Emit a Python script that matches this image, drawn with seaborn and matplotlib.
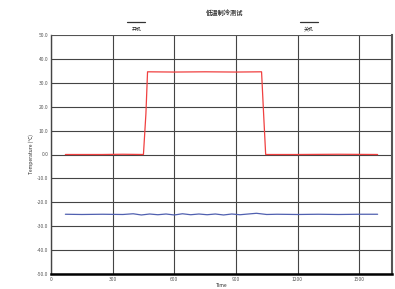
import numpy as np
import pandas as pd
import matplotlib.pyplot as plt
import seaborn as sns

sns.set_theme(style='white')
plt.rcParams['font.family'] = ['Noto Sans CJK SC', 'DejaVu Sans']
plt.rcParams['axes.unicode_minus'] = False

# data
title = '低温制冷测试'
event_labels = ['开机', '关机']
event_times = [415, 1255]
time_red = [70, 150, 250, 350, 450, 462, 470, 600, 750, 900, 1025, 1035, 1045, 1200, 1400, 1590]
red_vals = [0.0, 0.0, 0.0, 0.1, 0.0, 17.0, 34.6, 34.5, 34.6, 34.5, 34.6, 17.0, 0.0, 0.0, 0.1, 0.0]
time_blue = [70, 150, 250, 350, 400, 440, 480, 520, 560, 600, 640, 680, 720, 760, 800, 840,
             880, 920, 960, 1000, 1050, 1100, 1200, 1300, 1400, 1500, 1590]
blue_vals = [-25.0, -25.1, -25.0, -25.1, -24.8, -25.3, -24.9, -25.2, -24.9, -25.3, -24.8, -25.2,
             -24.9, -25.2, -24.9, -25.3, -24.9, -25.2, -24.9, -24.6, -25.1, -25.0, -25.1, -25.0,
             -25.1, -25.0, -25.0]
x_ticks = [0, 300, 600, 900, 1200, 1500]
y_ticks = [-50, -40, -30, -20, -10, 0, 10, 20, 30, 40, 50]

df_red = pd.DataFrame({'t': time_red, 'v': red_vals})
df_blue = pd.DataFrame({'t': time_blue, 'v': blue_vals})

fig = plt.figure(figsize=(3.95, 2.89), dpi=100)
ax = fig.add_axes([51 / 395, 15 / 289, 341 / 395, 239 / 289])

sns.lineplot(data=df_red, x='t', y='v', ax=ax, color='#f04040', lw=0.9)
sns.lineplot(data=df_blue, x='t', y='v', ax=ax, color='#5060b0', lw=0.9)

ax.set_xlim(0, 1660)
ax.set_ylim(-50, 50)
ax.set_xticks(x_ticks)
ax.set_yticks(y_ticks)
ax.set_xticklabels([str(t) for t in x_ticks], fontsize=3.5)
ax.set_yticklabels([f'{t:.1f}' for t in y_ticks], fontsize=3.5)
ax.set_xticks(np.arange(0, 1660, 60), minor=True)
ax.set_yticks(np.arange(-50, 51, 2), minor=True)
ax.grid(True, which='major', color='#444444', lw=0.8)
ax.tick_params(which='both', direction='in', length=2, width=0.5, colors='#555555', pad=2)
ax.tick_params(which='minor', length=1)
ax.set_xlabel('Time', fontsize=3.5, labelpad=1)
ax.set_ylabel('Temperature (°C)', fontsize=3.5, labelpad=2)
for side in ['top', 'right']:
    ax.spines[side].set_color('#555555')
    ax.spines[side].set_linewidth(0.7)
ax.spines['left'].set_color('#444444')
ax.spines['left'].set_linewidth(1.0)
ax.spines['bottom'].set_color('black')
ax.spines['bottom'].set_linewidth(1.8)
ax.spines['right'].set_linewidth(1.5)

# event markers above plot
for lab, t in zip(event_labels, event_times):
    ax.annotate(lab, xy=(t, 50), xytext=(0, 2.5), textcoords='offset points',
                ha='center', va='bottom', fontsize=3.5, annotation_clip=False)
    ax.plot([t - 45, t + 45], [55.5, 55.5], color='#333333', lw=0.9, clip_on=False)

fig.text(225 / 395, 1 - 12 / 289, title, ha='center', va='center', fontsize=4.5,
         fontweight='bold', color='#333333')

fig.savefig('out.png', dpi=100)
